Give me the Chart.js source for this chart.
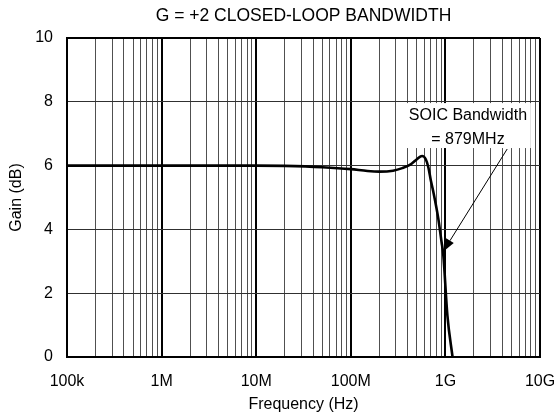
<!DOCTYPE html>
<html>
<head>
<meta charset="utf-8">
<script src="https://cdn.jsdelivr.net/npm/chart.js@4.4.1/dist/chart.umd.min.js"></script>
<style>
  html, body { margin: 0; padding: 0; background: #fff; }
  canvas { display: block; }
</style>
</head>
<body>
<canvas id="bwChart" width="556" height="414"></canvas>
<script>
// frequency response (Hz, dB)
const freqHz = [1e5, 1e6, 1e7, 2e7, 5e7, 1e8, 1.5e8, 2e8, 2.8e8, 3.5e8, 4.3e8, 5e8, 5.66e8, 6.2e8, 6.6e8, 7.0e8, 7.45e8, 8.4e8, 9.1e8, 9.5e8, 1.05e9, 1.19e9];
const gainDb = [6.0, 6.0, 6.0, 5.99, 5.95, 5.89, 5.83, 5.81, 5.84, 5.92, 6.04, 6.2, 6.3, 6.2, 5.95, 5.55, 5.18, 4.35, 3.61, 3.2, 1.3, 0];

const xTickValues = [1e5, 1e6, 1e7, 1e8, 1e9, 1e10];
const xTickLabels = ['100k', '1M', '10M', '100M', '1G', '10G'];
const yTicks = [0, 2, 4, 6, 8, 10];

const noteLines = ['SOIC Bandwidth', '= 879MHz'];

const FONT = "'Liberation Sans', Arial, sans-serif";

// callout box + arrow, placed in data units
const callout = {
    id: 'callout',
    afterDatasetsDraw(chart) {
        const ctx = chart.ctx;
        const xs = chart.scales.x, ys = chart.scales.y;
        const left = xs.getPixelForValue(3.75e8), right = xs.getPixelForValue(8e9);
        const top = ys.getPixelForValue(7.96), bottom = ys.getPixelForValue(6.55);
        ctx.save();
        ctx.fillStyle = '#fff';
        ctx.fillRect(left, top, right - left, bottom - top);
        ctx.fillStyle = '#000';
        ctx.font = '16px ' + FONT;
        ctx.textAlign = 'center';
        ctx.textBaseline = 'middle';
        const cx = (left + right) / 2;
        ctx.fillText(noteLines[0], cx, ys.getPixelForValue(7.58));
        ctx.fillText(noteLines[1], cx, ys.getPixelForValue(6.8));

        // arrow
        const x1 = xs.getPixelForValue(4.5e9), y1 = ys.getPixelForValue(6.52);
        const x2 = xs.getPixelForValue(9.45e8), y2 = ys.getPixelForValue(3.3);
        const ang = Math.atan2(y2 - y1, x2 - x1);
        const headLen = 13, headW = 4.5;
        ctx.strokeStyle = '#000';
        ctx.lineWidth = 1;
        ctx.beginPath();
        ctx.moveTo(x1, y1);
        ctx.lineTo(x2 - Math.cos(ang) * headLen, y2 - Math.sin(ang) * headLen);
        ctx.stroke();
        ctx.beginPath();
        ctx.moveTo(x2, y2);
        ctx.lineTo(x2 - Math.cos(ang) * headLen - Math.sin(ang) * headW, y2 - Math.sin(ang) * headLen + Math.cos(ang) * headW);
        ctx.lineTo(x2 - Math.cos(ang) * headLen + Math.sin(ang) * headW, y2 - Math.sin(ang) * headLen - Math.cos(ang) * headW);
        ctx.closePath();
        ctx.fill();
        ctx.restore();
    }
};

new Chart(document.getElementById('bwChart'), {
    type: 'line',
    data: {
        datasets: [{
            data: freqHz.map((f, i) => ({ x: f, y: gainDb[i] })),
            borderColor: '#000',
            borderWidth: 2.6,
            pointRadius: 0,
            cubicInterpolationMode: 'monotone',
            fill: false
        }]
    },
    options: {
        responsive: false,
        animation: false,
        devicePixelRatio: 1,
        layout: { padding: { left: 0, right: 16, top: 0, bottom: 0 } },
        plugins: {
            legend: { display: false },
            tooltip: { enabled: false },
            title: {
                display: true,
                fullSize: false,
                text: 'G = +2 CLOSED-LOOP BANDWIDTH',
                color: '#000',
                font: { family: FONT, size: 17.5, weight: 'normal' },
                padding: { top: 6, bottom: 11 }
            }
        },
        scales: {
            x: {
                type: 'logarithmic',
                min: 1e5,
                max: 1e10,
                afterBuildTicks(scale) {
                    const t = [];
                    xTickValues.forEach((d, i) => {
                        if (i === xTickValues.length - 1) { t.push({ value: d }); return; }
                        for (let m = 1; m <= 9; m++) t.push({ value: m * d });
                    });
                    scale.ticks = t;
                },
                afterFit(scale) {
                    scale.height = 57;
                    scale.paddingLeft = 0;
                    scale.paddingRight = 0;
                },
                grid: {
                    drawTicks: false,
                    color: c => xTickValues.includes(c.tick.value) ? '#000' : '#505050',
                    lineWidth: c => xTickValues.includes(c.tick.value) ? 2 : 1
                },
                border: { color: '#000', width: 2 },
                ticks: {
                    autoSkip: false,
                    maxRotation: 0,
                    padding: 15,
                    color: '#000',
                    font: { family: FONT, size: 16 },
                    callback(v) {
                        const i = xTickValues.indexOf(v);
                        return i >= 0 ? xTickLabels[i] : '';
                    }
                },
                title: {
                    display: true,
                    text: 'Frequency (Hz)',
                    color: '#000',
                    font: { family: FONT, size: 16 },
                    padding: { top: 0, bottom: 0 }
                }
            },
            y: {
                min: 0,
                max: 10,
                afterBuildTicks(scale) { scale.ticks = yTicks.map(v => ({ value: v })); },
                afterFit(scale) { scale.width = 67; },
                grid: {
                    drawTicks: false,
                    color: c => (c.tick.value === 10 ? '#000' : '#303030'),
                    lineWidth: c => (c.tick.value === 10 ? 2 : 1)
                },
                border: { color: '#000', width: 2 },
                ticks: {
                    padding: 14,
                    color: '#000',
                    font: { family: FONT, size: 16 }
                },
                title: {
                    display: true,
                    text: 'Gain (dB)',
                    color: '#000',
                    font: { family: FONT, size: 16 },
                    padding: { top: 7, bottom: 0 }
                }
            }
        }
    },
    plugins: [callout]
});
</script>
</body>
</html>
